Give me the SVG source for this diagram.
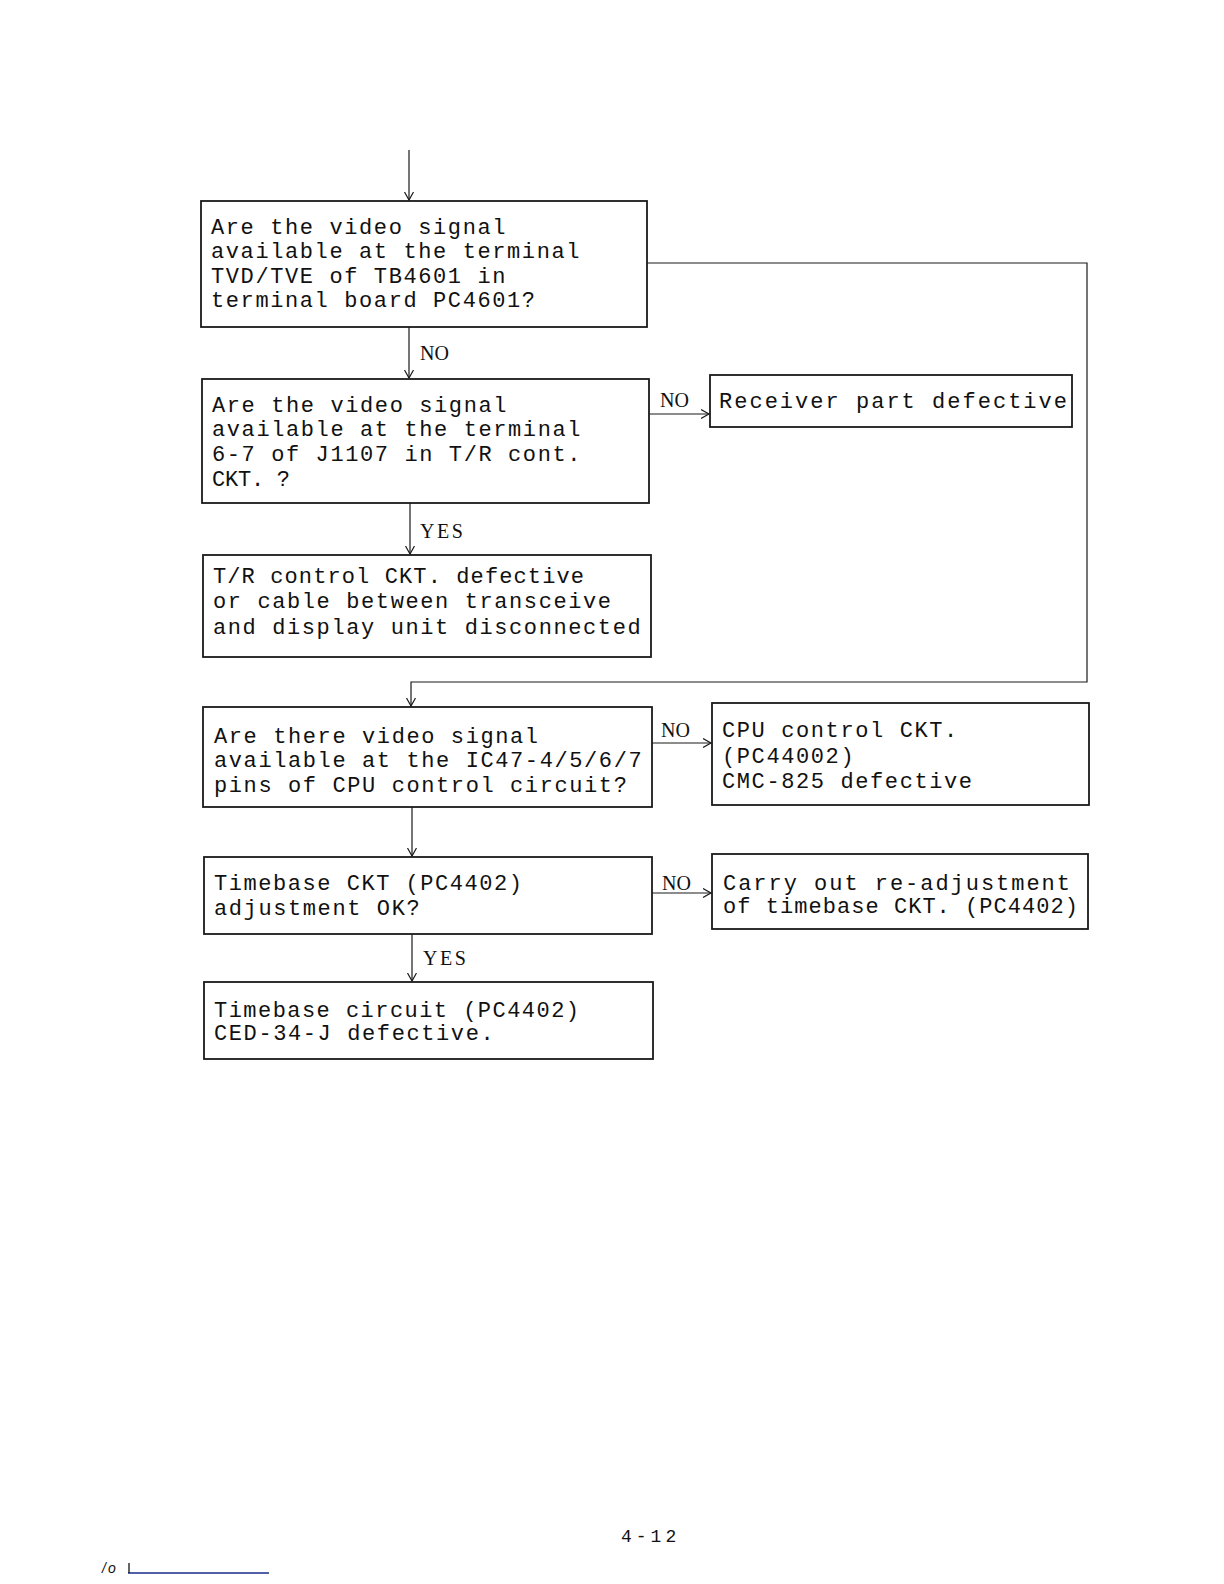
<svg xmlns="http://www.w3.org/2000/svg" width="1224" height="1584" viewBox="0 0 1224 1584">
<style>
.box{fill:none;stroke:#1a1a1a;stroke-width:1.8}
.ln{fill:none;stroke:#1a1a1a;stroke-width:1.2}
.t{font-family:"Liberation Mono","DejaVu Sans Mono",monospace;font-size:22px;letter-spacing:1.6px;fill:#111}
.fit{letter-spacing:0}
.lb{font-family:"Liberation Serif","Times New Roman",serif;font-size:20px;fill:#111}
.ys{letter-spacing:2.5px}
</style>
<defs>
<marker id="ah" markerUnits="userSpaceOnUse" markerWidth="12" markerHeight="12" refX="8" refY="5" orient="auto">
<path d="M0,0.5 L8,5 L0,9.5" fill="none" stroke="#1a1a1a" stroke-width="1.2"/>
</marker>
</defs>
<rect width="1224" height="1584" fill="#fff"/>

<g id="connectors">
<line class="ln" x1="409" y1="150" x2="409" y2="200" marker-end="url(#ah)"/>
<line class="ln" x1="409" y1="327" x2="409" y2="378" marker-end="url(#ah)"/>
<text class="lb" x="420" y="360">NO</text>
<line class="ln" x1="649" y1="414" x2="709" y2="414" marker-end="url(#ah)"/>
<text class="lb" x="660" y="407">NO</text>
<line class="ln" x1="410" y1="503" x2="410" y2="554" marker-end="url(#ah)"/>
<text class="lb ys" x="420" y="538">YES</text>
<polyline class="ln" points="647,263 1087,263 1087,682 411,682 411,706" marker-end="url(#ah)"/>
<line class="ln" x1="652" y1="743" x2="711" y2="743" marker-end="url(#ah)"/>
<text class="lb" x="661" y="737">NO</text>
<line class="ln" x1="412" y1="807" x2="412" y2="856" marker-end="url(#ah)"/>
<line class="ln" x1="652" y1="893" x2="711" y2="893" marker-end="url(#ah)"/>
<text class="lb" x="662" y="890">NO</text>
<line class="ln" x1="412" y1="934" x2="412" y2="981" marker-end="url(#ah)"/>
<text class="lb ys" x="423" y="965">YES</text>
</g>

<g id="q1">
<rect class="box" x="201" y="201" width="446" height="126"/>
<text class="t" x="211" y="234">Are the video signal</text>
<text class="t" x="211" y="258">available at the terminal</text>
<text class="t" x="211" y="283">TVD/TVE of TB4601 in</text>
<text class="t" x="211" y="307">terminal board PC4601?</text>
</g>

<g id="q2">
<rect class="box" x="202" y="379" width="447" height="124"/>
<text class="t" x="212" y="412">Are the video signal</text>
<text class="t" x="212" y="436">available at the terminal</text>
<text class="t" x="212" y="461">6-7 of J1107 in T/R cont.</text>
<text class="t fit" x="212" y="486" textLength="78" lengthAdjust="spacing">CKT. ?</text>
</g>

<g id="receiver">
<rect class="box" x="710" y="375" width="362" height="52"/>
<text class="t fit" x="719" y="408" textLength="348" lengthAdjust="spacing">Receiver part defective</text>
</g>

<g id="trcontrol">
<rect class="box" x="203" y="555" width="448" height="102"/>
<text class="t fit" x="213" y="583" textLength="371" lengthAdjust="spacing">T/R control CKT. defective</text>
<text class="t" x="213" y="608">or cable between transceive</text>
<text class="t" x="213" y="634">and display unit disconnected</text>
</g>

<g id="q3">
<rect class="box" x="203" y="707" width="449" height="100"/>
<text class="t" x="214" y="743">Are there video signal</text>
<text class="t" x="214" y="767">available at the IC47-4/5/6/7</text>
<text class="t" x="214" y="792">pins of CPU control circuit?</text>
</g>

<g id="cpu">
<rect class="box" x="712" y="703" width="377" height="102"/>
<text class="t" x="722" y="737">CPU control CKT.</text>
<text class="t" x="722" y="763">(PC44002)</text>
<text class="t" x="722" y="788">CMC-825 defective</text>
</g>

<g id="q4">
<rect class="box" x="204" y="857" width="448" height="77"/>
<text class="t fit" x="214" y="890" textLength="308" lengthAdjust="spacing">Timebase CKT (PC4402)</text>
<text class="t" x="214" y="915">adjustment OK?</text>
</g>

<g id="readjust">
<rect class="box" x="712" y="854" width="376" height="75"/>
<text class="t fit" x="723" y="890" textLength="347" lengthAdjust="spacing">Carry out re-adjustment</text>
<text class="t fit" x="723" y="913" textLength="355" lengthAdjust="spacing">of timebase CKT. (PC4402)</text>
</g>

<g id="timebase">
<rect class="box" x="204" y="982" width="449" height="77"/>
<text class="t fit" x="214" y="1017" textLength="365" lengthAdjust="spacing">Timebase circuit (PC4402)</text>
<text class="t" x="214" y="1040">CED-34-J defective.</text>
</g>

<g id="footer">
<text x="621" y="1542" style="font-family:'Liberation Mono',monospace;font-size:18px;letter-spacing:4px;fill:#111">4-12</text>
<text x="102" y="1573" style="font-family:'Liberation Sans',sans-serif;font-style:italic;font-size:14px;letter-spacing:2px;fill:#111">/o</text>
<line x1="128" y1="1573" x2="269" y2="1573" stroke="#1a2a8a" stroke-width="1.3"/>
<line x1="129" y1="1563" x2="129" y2="1573" stroke="#111" stroke-width="1.3"/>
</g>
</svg>
